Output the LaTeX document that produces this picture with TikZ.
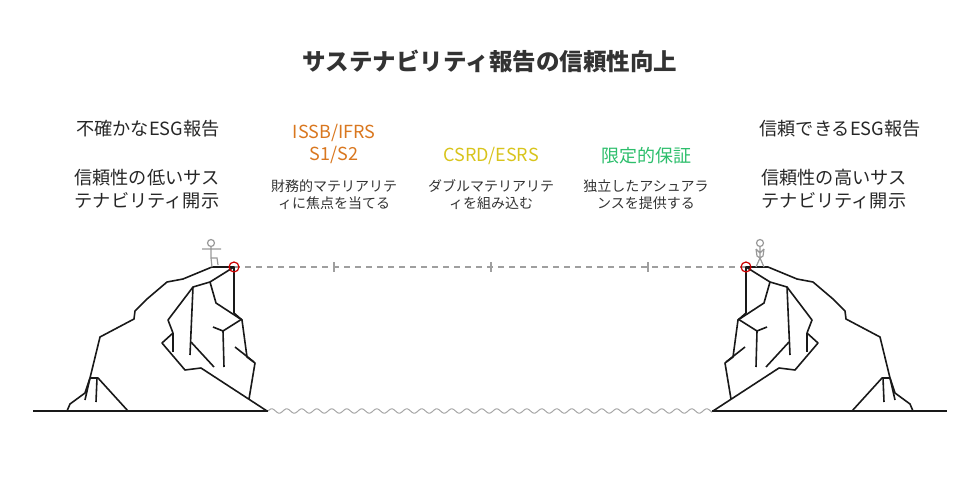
\documentclass[tikz,border=0pt]{standalone}
\usepackage{fontspec}
\setmainfont{Noto Sans CJK JP}
\begin{document}
\begin{tikzpicture}[x=1pt,y=-1pt,
  rock/.style={line width=1.6pt,line join=round,black!90},
  man/.style={line width=1.2pt,gray!80},
  lbl/.style={align=center,font=\fontsize{18.2}{23}\selectfont,text=black!85},
  stg/.style={align=center,font=\fontsize{18}{22}\selectfont},
  dsc/.style={align=center,font=\fontsize{14}{17}\selectfont,text=black!80}]
\useasboundingbox (0,0) rectangle (980,479);
\definecolor{org}{HTML}{D9771F}\definecolor{ylw}{HTML}{D8C41C}\definecolor{grn}{HTML}{2DBE6C}
\node[font=\fontsize{23.5}{26}\selectfont\bfseries,text=black!80] (title) at (490,61) {サステナビリティ報告の信頼性向上};
\node[lbl] (l1) at (148,129) {不確かなESG報告};
\node[lbl] (l2) at (147,189) {信頼性の低いサス\\テナビリティ開示};
\node[lbl] (r1) at (840,129) {信頼できるESG報告};
\node[lbl] (r2) at (834,189) {信頼性の高いサス\\テナビリティ開示};
\node[stg,text=org] (s1) at (334,144) {ISSB/IFRS\\S1/S2};
\node[stg,text=ylw] (s2) at (491,156) {CSRD/ESRS};
\node[stg,text=grn] (s3) at (646,156) {限定的保証};
\node[dsc] (d1) at (334,195) {財務的マテリアリテ\\ィに焦点を当てる};
\node[dsc] (d2) at (491,195) {ダブルマテリアリテ\\ィを組み込む};
\node[dsc] (d3) at (646,195) {独立したアシュアラ\\ンスを提供する};
% ground and water
\draw[rock] (33,411) -- (268,411);
\draw[rock] (712,411) -- (947,411);
\draw[line width=1pt,gray!70] plot[domain=0:444,samples=300,smooth] ({268+\x},{411-2.2*sin(24*\x)});
% dashed
\coordinate (pL) at (234,267); \coordinate (pR) at (746,267);
\draw[line width=1.2pt,gray!75,dash pattern=on 6pt off 5pt] (pL) -- (pR);
\foreach \t in {334,491,648} \draw[line width=1.2pt,gray!75] (\t,262) -- (\t,272);
% cliffs
\foreach \m/\s in {0/1,980/-1}{
\begin{scope}[shift={(\m,0)},xscale=\s]
\draw[rock] (67,411) -- (70,404) -- (85,393) -- (90,378) -- (100,337) -- (134,319) -- (135,311) -- (147,299) -- (167,282) -- (183,279) -- (212,267) -- (234,267) -- (234,313) -- (242,320) -- (247,357) -- (255,363) -- (249,399);
\draw[rock] (234,267) -- (210,282) -- (193,287) -- (168,320) -- (173,333) -- (162,343) -- (185,370) -- (201,368) -- (267,411);
\draw[rock] (193,287) -- (190,355);
\draw[rock] (191,342) -- (214,367);
\draw[rock] (210,282) -- (216,303) -- (242,320);
\draw[rock] (213,327) -- (223,331) -- (242,319);
\draw[rock] (223,331) -- (224,367);
\draw[rock] (235,347) -- (254,362);
\draw[rock] (173,333) -- (173,352);
\draw[rock] (90,378) -- (98,378) -- (128,411);
\draw[rock] (90,378) -- (85,400);
\draw[rock] (97,378) -- (96,402);
\end{scope}}
\draw[red!80!black,line width=1.2pt] (pL) circle (5); \draw[red!80!black,line width=1.2pt] (pR) circle (5);
% left man
\draw[man] (211,243) circle (3.5);
\draw[man] (211,247) -- (211,258) (202,249) -- (221,249) (211,258) -- (217,258) -- (218,265) (211,258) -- (212,267);
% right man
\draw[man] (760,243) circle (3.5);
\draw[man] (760,247) -- (760,258) (756,249) -- (760,253) -- (764,249) (756,249) -- (757,256) -- (760,258) (764,249) -- (763,256) -- (760,258) (760,258) -- (756,267) (760,258) -- (764,267);
\end{tikzpicture}
\end{document}
